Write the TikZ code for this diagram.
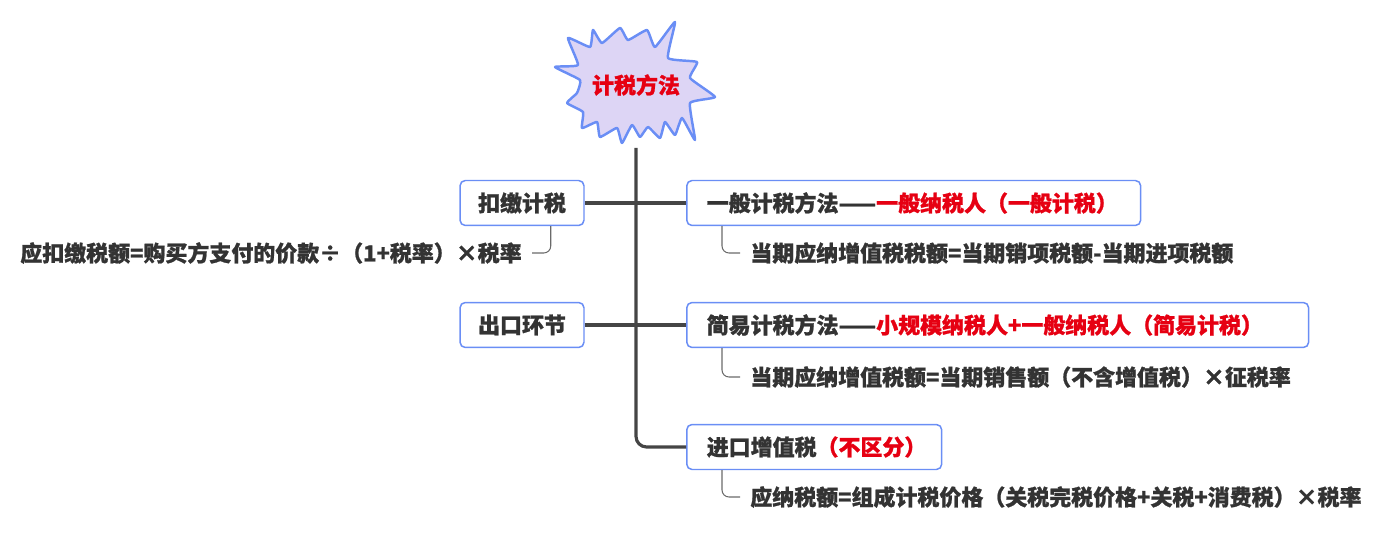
\documentclass[tikz,border=0pt]{standalone}
\usepackage{fontspec}
\setmainfont{Noto Sans CJK SC}[FakeBold=1.0]
\usepackage{tikz}
\usetikzlibrary{positioning}
\definecolor{boxblue}{HTML}{6A8EF5}
\definecolor{burstfill}{HTML}{DDD5F5}
\definecolor{keyred}{HTML}{E60012}
\definecolor{txtgray}{HTML}{333333}
\definecolor{linegray}{HTML}{454545}

\begin{document}
\begin{tikzpicture}[x=0.02cm, y=-0.02cm, font=\fontsize{12.5}{14}\selectfont, text=txtgray,
    lbox/.style={draw=boxblue, line width=0.85pt, rounded corners=3pt, fill=white, minimum width=2.48cm, minimum height=0.9cm, inner sep=0pt},
    rbox/.style={draw=boxblue, line width=0.85pt, rounded corners=3pt, fill=white, minimum height=0.9cm, inner xsep=0.4cm, inner ysep=0pt, text width=#1, align=left, anchor=west},
    formula/.style={inner xsep=0.2cm, inner ysep=0pt},
    trunk/.style={draw=linegray, line width=1.8pt},
    twig/.style={draw=linegray!80, line width=0.6pt, rounded corners=4pt}]
    \useasboundingbox (0,0) rectangle (1398,533);

    % the burst round the title
    \draw[draw=boxblue, line width=1.4pt, fill=burstfill, line join=round]
      plot[smooth cycle, tension=0.25] coordinates {(555,67) (578,65) (568,38) (590,47) (593,30) (602,43) (620,28) (628,40)
      (647,30) (655,47) (675,22) (668,58) (697,62) (690,78) (715,97) (690,103) (695,140) (682,118) (675,135) (665,122)
      (660,138) (648,127) (640,137) (632,125) (622,143) (617,128) (600,137) (597,122) (582,128) (583,112) (567,103) (577,93)
      (580,80)};
    \node[text=keyred] (title) at (636,85) {\bfseries 计税方法};
    \coordinate (top) at (636,148);

    \node[lbox] (kj) at (522,203) {\bfseries 扣缴计税};
    \node[lbox] (ck) at (522,325) {\bfseries 出口环节};
    \node[rbox=8.28cm] (yb) at (686,203) {\bfseries 一般计税方法——\textcolor{keyred}{一般纳税人（一般计税）}};
    \node[rbox=11.64cm] (jy) at (686,325) {\bfseries 简易计税方法——\textcolor{keyred}{小规模纳税人+一般纳税人（简易计税）}};
    \node[rbox=4.3cm] (jk) at (686,447) {\bfseries 进口增值税\textcolor{keyred}{（不区分）}};

    \node[formula, anchor=east] (kjf) at (532,253) {\bfseries 应扣缴税额=购买方支付的价款÷（1+税率）×税率};
    \node[formula, anchor=west] (ybf) at (740,253) {\bfseries 当期应纳增值税税额=当期销项税额-当期进项税额};
    \node[formula, anchor=west] (jyf) at (740,377) {\bfseries 当期应纳增值税额=当期销售额（不含增值税）×征税率};
    \node[formula, anchor=west] (jkf) at (740,497) {\bfseries 应纳税额=组成计税价格（关税完税价格+关税+消费税）×税率};

    \draw[trunk, rounded corners=6pt] (top) |- (jk.west);
    \draw[trunk] (kj.east) -- (yb.west);
    \draw[trunk] (ck.east) -- (jy.west);

    \draw[twig] ([xshift=-0.68cm]kj.south east) |- (kjf.east);
    \draw[twig] ([xshift=0.72cm]yb.south west) |- (ybf.west);
    \draw[twig] ([xshift=0.72cm]jy.south west) |- (jyf.west);
    \draw[twig] ([xshift=0.72cm]jk.south west) |- (jkf.west);
  \end{tikzpicture}
\end{document}
